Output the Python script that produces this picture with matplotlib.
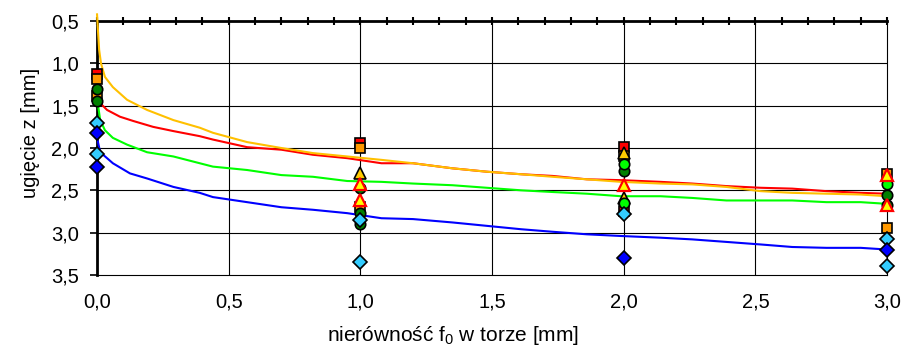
import numpy as np
import matplotlib
matplotlib.use("Agg")
import matplotlib.pyplot as plt
from matplotlib.ticker import MultipleLocator

plt.rcParams['font.family'] = ['Liberation Sans', 'DejaVu Sans']
plt.rcParams['mathtext.fontset'] = 'custom'
plt.rcParams['mathtext.rm'] = 'Liberation Sans'

# krzywe obliczeniowe
yel_x = [0, 0.004, 0.008, 0.015, 0.03, 0.06, 0.114, 0.19, 0.29, 0.39,
         0.44, 0.57, 0.70, 0.82, 0.95, 1.08, 1.2, 1.35, 1.48, 1.61, 1.73,
         1.86, 1.99, 2.14, 2.26, 2.39, 2.52, 2.64, 2.77, 2.9, 3.0]
yel_y = [0.42, 0.64, 0.84, 1.0, 1.16, 1.28, 1.43, 1.55, 1.67, 1.76,
         1.82, 1.93, 2.0, 2.06, 2.1, 2.14, 2.18, 2.24, 2.28, 2.31, 2.34,
         2.37, 2.4, 2.42, 2.43, 2.46, 2.51, 2.53, 2.54, 2.55, 2.57]

red_x = [0, 0.012, 0.038, 0.087, 0.137, 0.213, 0.29, 0.39,
         0.44, 0.57, 0.70, 0.82, 0.95, 1.08, 1.2, 1.35, 1.48, 1.61, 1.73,
         1.86, 1.99, 2.14, 2.26, 2.39, 2.52, 2.64, 2.77, 2.9, 3.0]
red_y = [1.4, 1.47, 1.55, 1.63, 1.68, 1.75, 1.8, 1.86,
         1.9, 1.99, 2.02, 2.08, 2.12, 2.18, 2.18, 2.24, 2.28, 2.31, 2.33,
         2.37, 2.38, 2.40, 2.42, 2.45, 2.47, 2.48, 2.51, 2.53, 2.54]

grn_x = [0, 0.004, 0.012, 0.03, 0.06, 0.114, 0.19, 0.29, 0.39,
         0.44, 0.57, 0.70, 0.82, 0.95, 1.08, 1.2, 1.35, 1.48, 1.61, 1.73,
         1.86, 1.99, 2.14, 2.26, 2.39, 2.52, 2.64, 2.77, 2.9, 3.0]
grn_y = [1.45, 1.5, 1.67, 1.79, 1.88, 1.96, 2.05, 2.1, 2.18,
         2.22, 2.26, 2.32, 2.34, 2.39, 2.40, 2.42, 2.44, 2.47, 2.5, 2.52,
         2.54, 2.57, 2.57, 2.59, 2.62, 2.62, 2.62, 2.64, 2.64, 2.66]

blu_x = [0, 0.012, 0.038, 0.06, 0.125, 0.19, 0.29, 0.39,
         0.44, 0.57, 0.70, 0.82, 0.95, 1.08, 1.2, 1.35, 1.48, 1.61, 1.73,
         1.86, 1.99, 2.14, 2.26, 2.39, 2.52, 2.64, 2.77, 2.9, 3.0]
blu_y = [1.88, 2.05, 2.12, 2.18, 2.3, 2.36, 2.46, 2.53,
         2.58, 2.64, 2.7, 2.73, 2.77, 2.83, 2.84, 2.88, 2.92, 2.96, 2.99,
         3.02, 3.04, 3.06, 3.08, 3.11, 3.14, 3.17, 3.18, 3.18, 3.2]

# pomiary
sq_red_x = [0, 1, 2, 2]
sq_red_y = [1.13, 1.94, 1.99, 2.74]
sq_org_x = [0, 0, 1, 1, 2, 3, 3]
sq_org_y = [1.19, 1.38, 2.0, 2.7, 2.09, 2.31, 2.94]
tri_blk_x = [1, 2, 2]
tri_blk_y = [2.29, 2.06, 2.59]
ci_dark_x = [0, 0, 1, 1, 1, 2, 3, 3]
ci_dark_y = [1.3, 1.45, 2.47, 2.77, 2.9, 2.27, 2.56, 2.67]
ci_lt_x = [2, 2, 3]
ci_lt_y = [2.19, 2.65, 2.43]
tri_red_x = [1, 1, 2, 3, 3]
tri_red_y = [2.42, 2.62, 2.44, 2.32, 2.67]
dm_cyan_x = [0, 0, 1, 1, 2, 3, 3]
dm_cyan_y = [1.7, 2.07, 2.85, 3.35, 2.78, 3.07, 3.39]
dm_blue_x = [0, 0, 2, 3]
dm_blue_y = [1.82, 2.23, 3.3, 3.2]

xticks = [0, 0.5, 1.0, 1.5, 2.0, 2.5, 3.0]
xlabels = ['0,0', '0,5', '1,0', '1,5', '2,0', '2,5', '3,0']
yticks = [0.5, 1.0, 1.5, 2.0, 2.5, 3.0, 3.5]
ylabels = ['0,5', '1,0', '1,5', '2,0', '2,5', '3,0', '3,5']

fig = plt.figure(figsize=(9.07, 3.52), dpi=100)
ax = fig.add_axes([0.107, 0.219, 0.871, 0.721])

# siatka bez linii przy x=0 (tam jest os)
for xv in xticks[1:-1]:
    ax.axvline(xv, color='black', lw=0.8, zorder=0.5)
for yv in yticks[1:-1]:
    ax.axhline(yv, color='black', lw=0.8, zorder=0.5)

lw = 1.5
ax.plot(blu_x, blu_y, color='#0000FF', lw=lw, zorder=3)
ax.plot(grn_x, grn_y, color='#00FF00', lw=lw, zorder=3)
ax.plot(red_x, red_y, color='#FF0000', lw=lw, zorder=3)
ax.plot(yel_x, yel_y, color='#FFC000', lw=lw, zorder=3, clip_on=False)

ew = 1.2
ax.plot(sq_red_x, sq_red_y, 's', ms=7.5, mfc='#FF0000', mec='black', mew=ew, zorder=4, clip_on=False)
ax.plot(sq_org_x, sq_org_y, 's', ms=7.5, mfc='#FF9900', mec='black', mew=ew, zorder=4, clip_on=False)
ax.plot(tri_blk_x, tri_blk_y, '^', ms=9, mfc='#FFCC00', mec='black', mew=ew, zorder=5, clip_on=False)
ax.plot(ci_dark_x, ci_dark_y, 'o', ms=7.5, mfc='#008000', mec='black', mew=ew, zorder=6, clip_on=False)
ax.plot(ci_lt_x, ci_lt_y, 'o', ms=7.5, mfc='#00FF00', mec='black', mew=ew, zorder=6, clip_on=False)
ax.plot(tri_red_x, tri_red_y, '^', ms=9, mfc='#FFFF00', mec='#FF0000', mew=1.6, zorder=7, clip_on=False)
ax.plot(dm_cyan_x, dm_cyan_y, 'D', ms=7.5, mfc='#33CCFF', mec='black', mew=ew, zorder=7, clip_on=False)
ax.plot(dm_blue_x, dm_blue_y, 'D', ms=7.5, mfc='#0000FF', mec='black', mew=ew, zorder=7, clip_on=False)

ax.set_xlim(0, 3)
ax.set_ylim(3.5, 0.5)
ax.set_xticks(xticks)
ax.set_xticklabels(xlabels)
ax.set_yticks(yticks)
ax.set_yticklabels(ylabels)
ax.xaxis.set_minor_locator(MultipleLocator(0.1))

ax.tick_params(axis='x', which='both', bottom=False, top=True, labelbottom=True,
               labeltop=False, direction='inout', length=6, width=1.5, labelsize=14.5, pad=10)
ax.tick_params(axis='y', which='major', left=True, right=False, direction='out',
               length=5, width=1.2, labelsize=14.5, pad=8)

for s in ['right', 'bottom']:
    ax.spines[s].set_linewidth(0.8)
for s in ['left', 'top']:
    ax.spines[s].set_linewidth(2)

ax.set_xlabel('nierówność f$_\\mathregular{0}$ w torze [mm]', fontsize=15)
ax.set_ylabel('ugięcie z [mm]', fontsize=14.5)
ax.xaxis.set_label_coords(0.45, -0.195)
ax.yaxis.set_label_coords(-0.072, 0.559)

fig.savefig('out.png', dpi=100)
